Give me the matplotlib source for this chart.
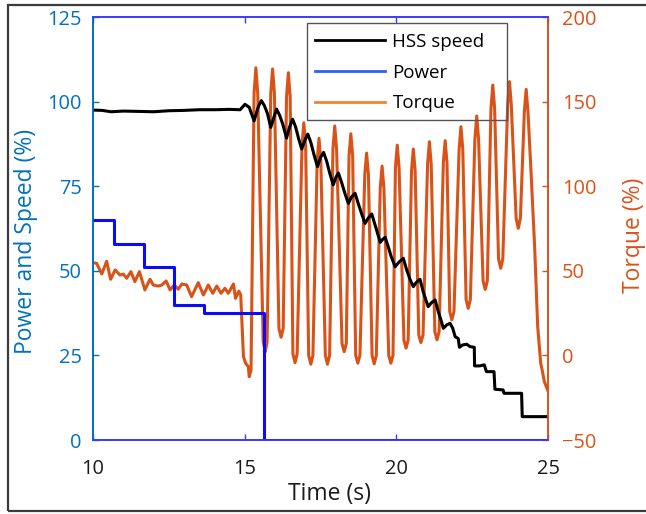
import matplotlib
matplotlib.use("Agg")
import matplotlib.pyplot as plt
from matplotlib.lines import Line2D
from matplotlib.patches import Rectangle

plt.rcParams['font.family'] = ['Open Sans', 'DejaVu Sans']

# ---------------- data ----------------
# HSS speed (%)
speed_t = [10.0, 10.3, 10.6, 11.0, 11.5, 12.0, 12.5, 13.0, 13.5, 14.0, 14.5, 14.85,
           15.01, 15.15, 15.31, 15.45, 15.55, 15.65, 15.75, 15.86, 15.95, 16.05, 16.15,
           16.25, 16.38, 16.48, 16.58, 16.68, 16.78, 16.88, 16.98, 17.08, 17.18, 17.28,
           17.40, 17.50, 17.60, 17.70, 17.80, 17.92, 18.00, 18.09, 18.20, 18.30, 18.42,
           18.52, 18.64, 18.74, 18.85, 18.97, 19.07, 19.19, 19.30, 19.40, 19.47, 19.55,
           19.63, 19.72, 19.82, 19.96, 20.08, 20.23, 20.35, 20.45, 20.56, 20.65, 20.78,
           20.88, 20.97, 21.05, 21.15, 21.28, 21.38, 21.47, 21.55, 21.66, 21.77, 21.86,
           21.94, 22.04, 22.08, 22.19, 22.32, 22.43, 22.57, 22.58, 22.74, 22.90, 22.97,
           23.22, 23.25, 23.52, 23.55, 24.13, 24.15, 25.0]
speed_v = [97.5, 97.4, 97.0, 97.2, 97.1, 97.0, 97.3, 97.4, 97.6, 97.6, 97.7, 97.6,
           99.2, 98.3, 94.3, 98.5, 100.3, 98.8, 96.5, 92.4, 95.0, 97.8, 96.0,
           93.5, 89.2, 92.5, 94.8, 92.5, 89.0, 86.0, 88.5, 90.4, 88.0, 84.5,
           80.8, 83.5, 85.0, 82.5, 79.0, 75.4, 77.5, 78.9, 76.0, 73.0, 69.9,
           71.8, 72.9, 70.0, 67.0, 64.0, 65.5, 66.8, 63.5, 60.5, 58.4, 59.3,
           59.9, 57.5, 54.5, 51.2, 52.5, 53.7, 50.0, 47.5, 45.3, 46.5, 47.5,
           44.0, 41.5, 39.4, 40.5, 41.4, 38.0, 35.5, 33.0, 34.0, 34.5, 33.0,
           30.5, 30.0, 27.4, 28.1, 28.3, 27.6, 27.4, 21.9, 21.9, 22.2, 20.2,
           20.2, 15.0, 14.8, 13.8, 13.8, 6.9, 6.9]

# Power (%) - step profile
power_t = [10.0, 10.69, 10.69, 11.68, 11.68, 12.68, 12.68, 13.67, 13.67, 15.65, 15.65, 25.0]
power_v = [65.0, 65.0, 58.0, 58.0, 51.0, 51.0, 40.0, 40.0, 37.5, 37.5, 0.0, 0.0]

# Torque (%) - right axis
torque_t = [10.01, 10.12, 10.29, 10.45, 10.58, 10.73, 10.89, 11.00, 11.11, 11.25, 11.38,
            11.53, 11.71, 11.88, 11.99, 12.15, 12.27, 12.41, 12.54, 12.68, 12.81, 12.93,
            13.09, 13.25, 13.47, 13.64, 13.80, 13.95, 14.08, 14.22, 14.35, 14.46, 14.63,
            14.70, 14.81, 14.87, 14.96, 15.03, 15.12, 15.15, 15.21,
            15.31, 15.37, 15.43, 15.61, 15.68, 15.74,
            15.86, 15.92, 15.98, 16.13, 16.20, 16.27,
            16.38, 16.44, 16.50, 16.59, 16.66, 16.73,
            16.89, 16.95, 17.01, 17.11, 17.18, 17.25,
            17.39, 17.45, 17.51, 17.66, 17.73, 17.80,
            17.91, 17.97, 18.03, 18.21, 18.28, 18.35,
            18.44, 18.50, 18.56, 18.66, 18.73, 18.80,
            18.96, 19.02, 19.08, 19.20, 19.27, 19.34,
            19.47, 19.53, 19.59, 19.75, 19.82, 19.89,
            19.97, 20.03, 20.09, 20.25, 20.32, 20.39,
            20.50, 20.56, 20.62, 20.74, 20.81, 20.88,
            21.03, 21.09, 21.15, 21.27, 21.34, 21.41,
            21.55, 21.61, 21.67, 21.76, 21.83, 21.90,
            22.07, 22.13, 22.19, 22.30, 22.37, 22.44,
            22.59, 22.65, 22.71, 22.86, 22.93, 23.00,
            23.12, 23.18, 23.24, 23.37, 23.44, 23.51,
            23.67, 23.73, 23.79, 23.95, 24.02, 24.09,
            24.22, 24.28, 24.34, 24.45, 24.56, 24.66, 24.76, 24.80, 24.88, 25.0]
torque_v = [54.8, 54.4, 48.1, 55.6, 45.0, 50.5, 47.5, 48.1, 45.6, 49.5, 43.6,
            49.5, 38.7, 45.0, 41.6, 41.0, 41.6, 44.0, 38.7, 41.6, 39.1, 42.2,
            41.6, 34.7, 43.0, 35.7, 41.6, 36.7, 41.0, 36.7, 39.7, 36.7, 42.2,
            33.7, 38.0, 35.7, -0.7, -4.6, -6.6, -12.6, -8.7,
            155, 170, 155, 8, 2.2, 8,
            155, 169.3, 155, 16, 10.7, 16,
            153, 167.1, 153, 1, -4.3, 1,
            124, 137.5, 124, 0, -5.2, 0,
            115, 128.3, 115, 0, -5.2, 0,
            122, 135.6, 122, 7, 2.2, 7,
            118, 131, 118, 0, -4.6, 0,
            107, 119.6, 107, 0, -5, 0,
            99, 111.9, 99, 0, -4.6, 0,
            111, 124.3, 111, 9, 4.3, 9,
            109, 122, 109, 12, 7.6, 12,
            113, 126.3, 113, 14, 9.2, 14,
            114, 126.9, 114, 26, 21, 26,
            122, 135.2, 122, 33, 27.8, 33,
            128, 141.5, 128, 44, 39, 44,
            146, 159.8, 146, 57, 51.5, 57,
            148, 161.8, 148, 81, 75.1, 81,
            144, 157.3, 144, 105, 64, 17, -4.6, -8, -15.5, -21]

legend_labels = ["HSS speed", "Power", "Torque"]
x_ticks = [10, 15, 20, 25]
left_ticks = [0, 25, 50, 75, 100, 125]
right_ticks = [-50, 0, 50, 100, 150, 200]

# ---------------- styles ----------------
C_LEFT = '#0072BD'
C_RIGHT = '#D95319'
C_XAX = '#3a3aff'
C_POWER = '#0a0aff'

fig = plt.figure(figsize=(6.46, 5.14), dpi=100)
ax1 = fig.add_axes([93/646, 74/514, 455/646, 423/514])
ax2 = ax1.twinx()
ax1.set_zorder(ax2.get_zorder() + 1)
ax1.patch.set_visible(False)

ax2.plot(torque_t, torque_v, color=C_RIGHT, lw=2.2, solid_joinstyle='round')
ax1.plot(power_t, power_v, color=C_POWER, lw=2.2)
ax1.plot(speed_t, speed_v, color='black', lw=2.2)

ax1.set_xlim(10, 25)
ax1.set_ylim(0, 125)
ax2.set_ylim(-50, 200)
ax1.set_xticks(x_ticks)
ax1.set_yticks(left_ticks)
ax2.set_yticks(right_ticks)

tick_fs = 14.4
ax1.tick_params(axis='x', direction='in', length=4, width=1, color=C_XAX,
                labelcolor='#1a1a1a', labelsize=tick_fs, pad=14, top=True)
ax1.tick_params(axis='y', direction='in', length=4, width=1, color=C_LEFT,
                labelcolor=C_LEFT, labelsize=tick_fs, pad=8)
ax2.tick_params(axis='y', direction='in', length=4, width=1, color=C_RIGHT,
                labelcolor=C_RIGHT, labelsize=tick_fs, pad=10)

for ax in (ax1, ax2):
    ax.spines['top'].set_color(C_XAX)
    ax.spines['bottom'].set_color(C_XAX)
    ax.spines['left'].set_color(C_LEFT)
    ax.spines['right'].set_color(C_RIGHT)
    for s in ax.spines.values():
        s.set_linewidth(1.2)

ax1.set_xlabel("Time (s)", fontsize=16.5, color='#1a1a1a')
ax1.xaxis.set_label_coords(0.519, -0.100)
ax1.set_ylabel("Power and Speed (%)", fontsize=16.5, color=C_LEFT)
ax1.yaxis.set_label_coords(-0.121, 0.469)
ax2.set_ylabel("Torque (%)", fontsize=16.5, color=C_RIGHT)
ax2.yaxis.set_label_coords(1.163, 0.485)

handles = [Line2D([], [], color='black', lw=2),
           Line2D([], [], color='#2a62f5', lw=2),
           Line2D([], [], color='#f58231', lw=2)]
leg = ax1.legend(handles, legend_labels, loc='upper left',
                 bbox_to_anchor=(315/646, 1 - 33/514), bbox_transform=fig.transFigure,
                 borderaxespad=0, borderpad=0, fontsize=13.5, frameon=False,
                 handlelength=3.75, handletextpad=0.38, labelspacing=0.68)

# legend border (transparent, lines show through as in the original)
fig.patches.append(Rectangle((307/646, 1 - 120/514), 200/646, 97/514,
                             transform=fig.transFigure, fill=False,
                             edgecolor='#555555', lw=1.0, zorder=5))

# outer figure frame
fig.patches.append(Rectangle((8/646, 3/514), 1.0, 506/514, transform=fig.transFigure,
                             fill=False, edgecolor='#3c3c3c', lw=1.6, zorder=10))

fig.savefig("out.png", dpi=100)
